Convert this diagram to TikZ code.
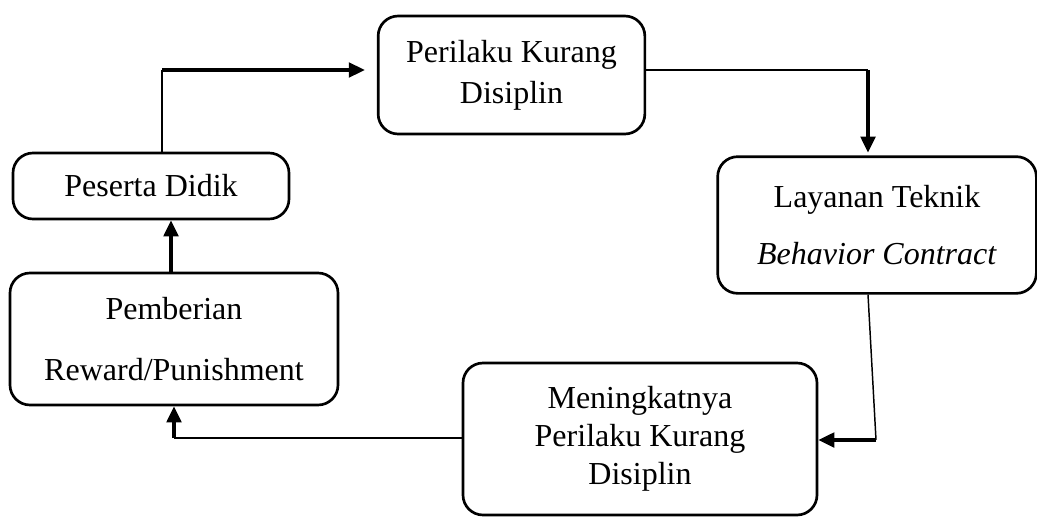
\documentclass[tikz,border=0pt]{standalone}
\usepackage{fontspec}
\setmainfont{Liberation Serif}
\usetikzlibrary{arrows.meta}
\begin{document}
\begin{tikzpicture}[x=0.75pt,y=-0.75pt,
  box/.style={draw,line width=2pt,rounded corners=15pt,inner sep=0pt,align=center},
  conn/.style={line width=1.1pt},
  thick conn/.style={line width=2.3pt},
  tip/.style={-{Triangle[length=12pt,width=11pt]}}]
\useasboundingbox (0,0) rectangle (1037,518);
\node[box,minimum width=207pt,minimum height=49.5pt,font=\fontsize{24}{28}\selectfont] (pes) at (151,186) {Peserta Didik};
\node[box,minimum width=200pt,minimum height=88.5pt,font=\fontsize{24}{31}\selectfont] (per) at (511.5,75) {Perilaku Kurang\\Disiplin};
\node[box,minimum width=239pt,minimum height=102.5pt,font=\fontsize{24}{43}\selectfont] (lay) at (877,225) {Layanan Teknik\\\textit{Behavior Contract}};
\node[box,minimum width=246pt,minimum height=99pt,font=\fontsize{24}{46}\selectfont] (pem) at (174,339) {Pemberian\\Reward/Punishment};
\node[box,minimum width=265.5pt,minimum height=114pt,font=\fontsize{24}{28.5}\selectfont] (men) at (640,439) {Meningkatnya\\Perilaku Kurang\\Disiplin};
\coordinate (c1) at (162,70);
\coordinate (c2) at (868,70);
\coordinate (c3a) at (868,293);
\coordinate (c3) at (876,440);
\coordinate (c4) at (174,438);
\coordinate (c5) at (171,0);
\draw[conn] (pes.north -| c1) -- (c1);
\draw[thick conn,tip,shorten >=9pt] (c1) -- (per.west |- c1);
\draw[conn] (per.east |- c2) -- (c2);
\draw[thick conn,tip,shorten >=2pt] (c2) -- (lay.north -| c2);
\draw[conn] (lay.south -| c3a) -- (c3);
\draw[thick conn,tip] (c3) -- (men.east |- c3);
\draw[conn] (men.west |- c4) -- (c4);
\draw[thick conn,tip] (c4) -- (pem.south -| c4);
\draw[thick conn,tip] (pem.north -| c5) -- (pes.south -| c5);
\end{tikzpicture}
\end{document}
